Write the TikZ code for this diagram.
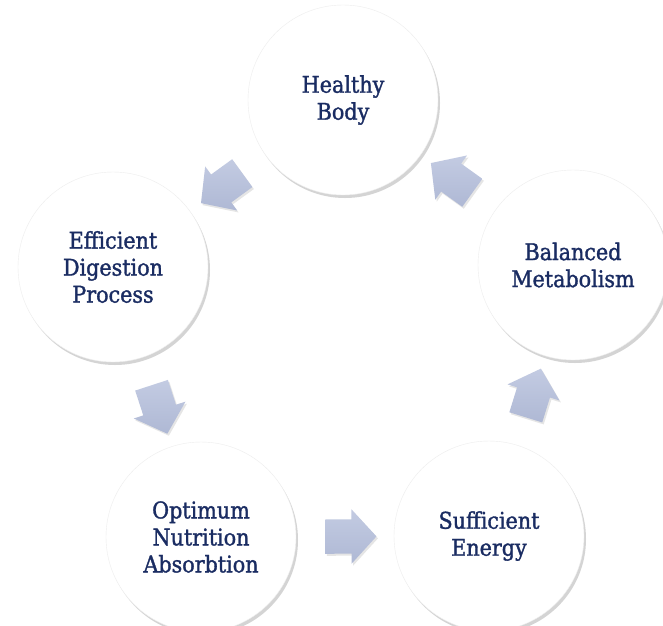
\documentclass[tikz,border=0pt]{standalone}
\usepackage{fontspec}
\newfontfamily\stagefont[FakeBold=1.4]{DejaVu Serif Condensed}
\usetikzlibrary{calc, shapes.arrows, shadows}
\definecolor{inkblue}{RGB}{26,44,98}
\definecolor{flowblue}{RGB}{180,190,219}
\tikzset{x=1pt, y=-1pt}
\tikzset{
  stage/.style={circle, fill=white, draw=black!7, minimum size=190pt,
    inner sep=0pt, align=center, text=inkblue,
    font=\stagefont\fontsize{23}{27}\selectfont,
    drop shadow={shadow xshift=2pt, shadow yshift=-3pt, opacity=.3, fill=black!55}},
  flow/.style={single arrow, draw=none, top color=flowblue!80, bottom color=flowblue!97!black,
    minimum height=51pt, minimum width=0pt, inner xsep=0pt, inner ysep=17pt,
    single arrow head extend=10pt, single arrow tip angle=95,
    sloped, allow upside down,
    drop shadow={shadow xshift=1.5pt, shadow yshift=-2pt, opacity=.2}}
}

\begin{document}
\begin{tikzpicture}
  \fill[white] (0,0) rectangle (663,625);
  \useasboundingbox (0,0) rectangle (663,625);

  % the five stages
  \node[stage] (body) at (343,100) {Healthy\\Body};
  \node[stage] (dig)  at (113,267) {Efficient\\Digestion\\Process};
  \node[stage] (abs)  at (201,537) {Optimum\\Nutrition\\Absorbtion};
  \node[stage] (nrg)  at (489,536) {Sufficient\\Energy};
  \node[stage] (met)  at (573,265) {Balanced\\Metabolism};

  % block arrows round the cycle
  \path (body) -- node[flow] (f1) {} (dig);
  \path (dig)  -- node[flow] (f2) {} (abs);
  \path (abs)  -- node[flow, pos=.48] (f3) {} (nrg);
  \path (nrg)  -- node[flow] (f4) {} (met);
  \path (met)  -- node[flow] (f5) {} (body);
\end{tikzpicture}
\end{document}
